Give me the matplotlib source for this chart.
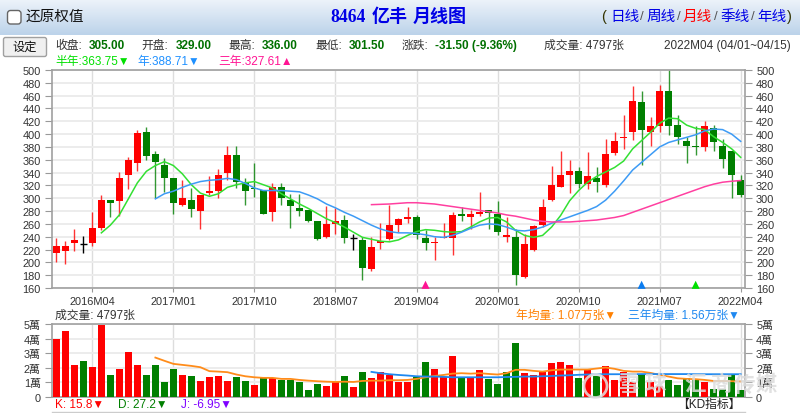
import numpy as np
import matplotlib
matplotlib.use("Agg")
import matplotlib.pyplot as plt
from matplotlib.patches import FancyBboxPatch, Circle

LATIN = ['Liberation Sans', 'Noto Sans CJK TC', 'DejaVu Sans']
plt.rcParams['font.family'] = LATIN

# monthly candles, 2015M12 .. 2022M04
opens = [215, 217, 230, 229, 230, 253, 298, 295, 336, 355, 403, 369, 352, 332, 290, 298, 280, 308, 311, 339,
         368, 325, 316, 313, 279, 317, 298, 284, 282, 264, 240, 260, 266, 238, 235, 189, 230, 236, 259, 268,
         270, 238, 230, 238, 238, 276, 270, 276, 282, 275, 239, 239, 177, 219, 259, 297, 318, 337, 343, 322,
         331, 321, 370, 394, 403, 450, 403, 412, 468, 415, 389, 381, 380, 410, 381, 373, 329]
closes = [225, 225, 235, 229, 253, 298, 293, 332, 360, 402, 366, 357, 332, 293, 300, 283, 305, 312, 337, 368,
          325, 311, 314, 275, 317, 300, 288, 280, 264, 237, 260, 264, 238, 238, 191, 224, 234, 258, 267, 270,
          242, 230, 232, 240, 274, 272, 275, 279, 277, 247, 243, 180, 229, 256, 287, 321, 337, 343, 322, 335,
          325, 369, 389, 396, 451, 407, 412, 468, 413, 395, 382, 380.5, 412, 387, 361, 336, 305]
highs = [238, 233, 252, 241, 278, 305, 298, 341, 364, 407, 411, 374, 362, 332, 328, 316, 305, 335, 345, 381,
         381, 332, 355, 313, 323, 323, 306, 307, 282, 265, 288, 285, 274, 245, 239, 240, 262, 289, 269, 287,
         274, 250, 240, 261, 279, 286, 281, 310, 282, 296, 270, 252, 245, 259, 299, 351, 374, 359, 349, 372,
         348, 392, 403, 430, 475, 468, 426, 476, 500, 430, 396, 413, 420, 414, 392, 374, 336]
lows = [200, 198, 218, 215, 225, 250, 270, 273, 315, 343, 360, 300, 310, 275, 288, 270, 252, 305, 301, 329,
        316, 290, 302, 275, 264, 289, 254, 273, 263, 235, 238, 245, 230, 219, 173, 186, 221, 235, 247, 262,
        237, 219, 203, 238, 212, 264, 252, 273, 252, 243, 231, 164, 176, 218, 255, 295, 317, 308, 316, 315,
        309, 318, 368, 377, 391, 352, 382, 404, 398, 385, 355, 367, 374, 373, 347, 301, 301.5]

# moving averages, each one starts later than the candles
ma_half_start = 5
ma_half = [246, 258, 274, 299, 324, 342, 351, 357, 351, 338, 321, 308, 303, 307, 317, 321, 324, 326, 321, 316,
           307, 299, 291, 284, 276, 268, 262, 255, 247, 239, 236, 233, 232, 235, 242, 248, 251, 250, 248, 247,
           248, 255, 263, 269, 270, 263, 250, 242, 239, 242, 255, 273, 296, 312, 325, 334, 341, 348, 358, 377,
           390, 403, 417, 425, 424, 414, 409, 407, 396, 387, 377, 363.75]
ma_year_start = 11
ma_year = [299, 307, 311, 317, 322, 326, 328, 329, 331, 329, 323, 316, 312, 312, 312, 311, 310, 305, 299, 291,
           285, 278, 272, 265, 258, 252, 248, 246, 246, 245, 243, 240, 239, 242, 247, 253, 258, 260, 259, 255,
           250, 249, 251, 255, 261, 266, 271, 276, 281, 287, 297, 311, 327, 344, 356, 368, 380, 387, 391, 395,
           399, 405, 408, 407, 400, 388.71]
ma_3y_start = 35
ma_3y = [290, 290.5, 291, 292, 293, 293, 292, 291, 289, 287, 285, 283, 281, 279, 277, 274, 272, 269, 266, 264,
         263, 263, 263, 264, 265, 266, 268, 270, 273, 278, 283, 288, 293, 298, 303, 308, 313, 318, 322, 325,
         326.5, 327.61]

# volume in units of 10k
volumes = [3.99, 4.52, 2.22, 2.45, 2.06, 4.9, 1.49, 1.93, 3.07, 2.2, 1.51, 2.2, 1.05, 1.95, 1.51, 1.42, 1.12,
           1.38, 1.42, 1.12, 1.38, 1.1, 0.8, 1.28, 1.28, 1.15, 1.19, 1.03, 0.5, 0.87, 0.78, 1.05, 1.44, 0.71,
           1.72, 1.31, 1.7, 1.54, 1.01, 1.01, 1.4, 2.41, 1.93, 1.35, 2.8, 1.35, 1.28, 1.83, 1.24, 0.92, 1.7,
           3.72, 1.63, 1.51, 1.74, 2.32, 2.43, 2.2, 1.31, 1.88, 1.42, 2.09, 1.17, 1.74, 1.05, 1.58, 1.0, 0.75,
           1.17, 0.85, 1.28, 1.24, 1.0, 0.55, 0.55, 1.51, 0.48]
vol_up = [1, 1, 1, 0, 1, 1, 0, 1, 1, 1, 0, 0, 0, 0, 1, 0, 1, 1, 1, 1, 0, 0, 1, 0, 1, 0, 0, 0, 0, 0, 1, 1, 0, 1,
          0, 1, 1, 1, 1, 1, 0, 0, 1, 1, 1, 0, 1, 1, 0, 0, 0, 0, 1, 1, 1, 1, 1, 1, 0, 1, 0, 1, 1, 1, 1, 0, 1, 1,
          0, 0, 0, 0, 1, 0, 0, 0, 0]
vol_year = [2.7, 2.48, 2.27, 2.2, 2.13, 2.04, 1.77, 1.74, 1.7, 1.54, 1.42, 1.35, 1.31, 1.31, 1.24, 1.24, 1.17,
            1.12, 1.08, 1.05, 1.03, 1.05, 1.03, 1.1, 1.12, 1.12, 1.15, 1.15, 1.17, 1.24, 1.35, 1.44, 1.51, 1.6,
            1.63, 1.6, 1.63, 1.58, 1.54, 1.63, 1.86, 1.86, 1.79, 1.74, 1.83, 1.88, 1.88, 1.88, 1.88, 1.95, 2.02,
            1.93, 1.79, 1.74, 1.74, 1.65, 1.51, 1.4, 1.28, 1.24, 1.22, 1.17, 1.1, 1.1, 1.08, 1.07]
vol_3y = [1.72, 1.63, 1.56, 1.51, 1.47, 1.42, 1.4, 1.4, 1.38, 1.35, 1.35, 1.35, 1.35, 1.35, 1.35, 1.37, 1.38,
          1.4, 1.4, 1.42, 1.44, 1.47, 1.49, 1.52, 1.54, 1.55, 1.56, 1.56, 1.56, 1.56, 1.57, 1.57, 1.57, 1.57,
          1.57, 1.57, 1.56, 1.56, 1.56, 1.56, 1.56, 1.56]

tick_idx = [4, 13, 22, 31, 40, 49, 58, 67, 76]
tick_labels = ['2016M04', '2017M01', '2017M10', '2018M07', '2019M04', '2020M01', '2020M10', '2021M07', '2022M04']
price_ticks = list(range(160, 501, 20))
vol_ticks = [0, 1, 2, 3, 4, 5]
vol_tick_labels = ['0', '1萬', '2萬', '3萬', '4萬', '5萬']

# cross signals along the bottom of the price panel
signal_idx = [41, 65, 71]
signal_level = [165, 165, 165]

RED = '#ff0000'
GREEN = '#007f00'
W, H = 800, 414


def px_axes(x0, y0, x1, y1, **kw):
    # axes given in screen pixels, y downwards
    return fig.add_axes([x0 / W, 1 - y1 / H, (x1 - x0) / W, (y1 - y0) / H], **kw)


fig = plt.figure(figsize=(W / 100, H / 100), dpi=100, facecolor='white')

# header gradient
bg = px_axes(0, 0, W, 36)
bg.imshow(np.linspace(0, 1, 36).reshape(-1, 1), aspect='auto', cmap=matplotlib.colors.LinearSegmentedColormap.from_list(
    'hdr', ['#edf3fa', '#bcd3ea']))
bg.axis('off')

x = np.arange(len(opens))
xlim = (-0.48, 76.48)

# price panel
ax = px_axes(52, 71, 745, 289)
ax.set_xlim(*xlim)
ax.set_ylim(160, 500)
ax.set_axisbelow(True)
ax.yaxis.grid(True, color='#ececec', lw=1.4)
ax.xaxis.grid(True, color='#dddddd', lw=1.0)
for i in x:
    o, c = opens[i], closes[i]
    col = RED if c > o else GREEN
    if abs(c - o) < 0.01:
        col = 'black'
    ax.vlines(i, lows[i], highs[i], color=col, lw=1.0, alpha=0.8 if col != 'black' else 1)
    if col == 'black':
        ax.hlines(o, i - 0.37, i + 0.37, color=col, lw=1.0)
    else:
        ax.bar(i, abs(c - o), bottom=min(o, c), width=0.8, color=col, zorder=3)
ax.plot(x[ma_half_start:], ma_half, color='#33e033', lw=1.1, zorder=4)
ax.plot(x[ma_year_start:], ma_year, color='#3d9bf5', lw=1.1, zorder=4)
ax.plot(x[ma_3y_start:], ma_3y, color='#ff3fa0', lw=1.1, zorder=4)
ax.scatter(signal_idx, signal_level, marker='^', s=34, linewidths=0, c=['#ff1493', '#0a7cf0', '#00e000'],
           zorder=5, clip_on=False)
ax.set_xticks(tick_idx)
ax.set_xticklabels(tick_labels, fontsize=7.9, color='#333333')
ax.set_yticks(price_ticks)
ax.tick_params(axis='y', which='both', left=True, right=True, labelleft=True, labelright=True,
               labelsize=7.9, labelcolor='#333333', length=5, color='#999999', pad=3)
ax.tick_params(axis='x', length=3, color='#999999', pad=2.5)
for s in ax.spines.values():
    s.set_color('#a0a0a0')
    s.set_linewidth(1.2)

# volume panel
vx = px_axes(52, 325, 745, 398)
vx.set_xlim(*xlim)
vx.set_ylim(0, 5)
vx.set_axisbelow(True)
vx.yaxis.grid(True, color='#ececec', lw=1.4)
vx.xaxis.grid(True, color='#dddddd', lw=1.0)
vx.bar(x, volumes, width=0.8, color=[RED if u else GREEN for u in vol_up], zorder=3)
vx.plot(x[ma_year_start:], vol_year, color='#ff8c1a', lw=1.3, zorder=4)
vx.plot(x[ma_3y_start:], vol_3y, color='#1e88f0', lw=1.3, zorder=4)
vx.set_xticks(tick_idx)
vx.set_xticklabels([])
vx.set_yticks(vol_ticks)
vx.set_yticklabels(vol_tick_labels)
vx.tick_params(axis='y', left=True, right=True, labelleft=True, labelright=True,
               labelsize=7.9, labelcolor='#333333', length=5, color='#999999', pad=3)
vx.tick_params(axis='x', length=0)
for s in vx.spines.values():
    s.set_color('#a0a0a0')
    s.set_linewidth(1.2)

# text layer, in pixel coordinates
ov = px_axes(0, 0, W, H, zorder=10)
ov.set_xlim(0, W)
ov.set_ylim(H, 0)
ov.axis('off')


def label(px, py, s, color='#333333', size=8.5, weight='normal', ha='left', family=None, alpha=None):
    ov.text(px, py, s, color=color, fontsize=size, fontweight=weight, ha=ha, va='center',
            family=family or LATIN, alpha=alpha)


# checkbox + title row
ov.add_patch(FancyBboxPatch((7.5, 11.5), 13.5, 13.5, boxstyle='round,pad=0,rounding_size=3', fc='white',
                            ec='#666666', lw=1))
label(26, 17, '还原权值', color='#111111', size=10.5)
label(330, 17.5, '8464', color='#0000e6', size=12.7, weight='bold', family=['Liberation Serif'])
label(371.5, 17, '亿丰', color='#0000e6', size=13, weight='bold')
label(413, 17, '月线图', color='#0000e6', size=13, weight='bold')
label(601, 17, '(', color='#333300', size=10.5)
for px, s, col in zip([610, 646, 683, 720, 757], ['日线', '周线', '月线', '季线', '年线'],
                      ['#0000e6', '#0000e6', '#ff0000', '#0000e6', '#0000e6']):
    label(px, 17, s, color=col, size=10.5)
for px in [640, 677, 714, 751]:
    label(px, 17, '/', color='#555555', size=9.5)
label(787, 17, ')', color='#333300', size=10.5)

# quote row
ov.add_patch(FancyBboxPatch((3.5, 38.5), 43, 19, boxstyle='round,pad=0,rounding_size=2', fc='#f0f0f0',
                            ec='#a0a0a0', lw=1))
label(25, 48, '设定', color='#111111', size=8.8, ha='center')
for px, s in zip([55, 141, 228, 315, 402], ['收盘:', '开盘:', '最高:', '最低:', '涨跌:']):
    label(px, 46, s)
for px, s in zip([89, 176, 262, 349, 435], ['305.00', '329.00', '336.00', '301.50', '-31.50 (-9.36%)']):
    label(px, 46, s, color='#007000', weight='bold')
label(544, 46, '成交量: 4797张')
label(664, 46, '2022M04 (04/01~04/15)')
label(55, 61.5, '半年:363.75▼', color='#00e000')
label(137, 61.5, '年:388.71▼', color='#1e90ff')
label(218, 61.5, '三年:327.61▲', color='#ff1493')

# volume headers and KD line
label(55, 316, '成交量: 4797张')
label(516, 316, '年均量: 1.07万张▼', color='#ff8000')
label(628, 316, '三年均量: 1.56万张▼', color='#1e88f0')
label(55, 405, 'K: 15.8▼', color='#ff0000')
label(118, 405, 'D: 27.2▼', color='#007f00')
label(181, 405, 'J: -6.95▼', color='#7f00ff')
label(677, 405, '【KD指标】', color='#222222')
ov.plot([52, 745], [413, 413], color='#cccccc', lw=1)

# watermark, one glyph at a time to keep the wide spacing
ov.add_patch(Circle((595.5, 387), 11.5, fc='none', ec='#e2e2e2', lw=2, alpha=0.85))
for px, s in zip([628, 655, 695, 722, 744, 766], '雪球汇商传媒'):
    label(px, 386, s, color='#dcdcdc', size=15.5, weight='bold', ha='center', alpha=0.85)

fig.savefig('out.png', dpi=100)
